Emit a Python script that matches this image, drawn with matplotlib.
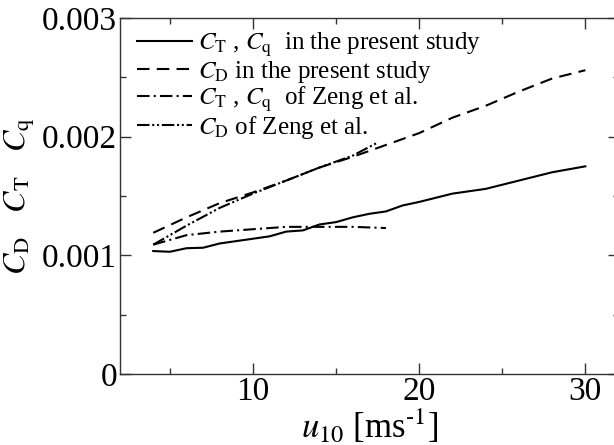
import matplotlib
matplotlib.use("Agg")
import matplotlib.pyplot as plt
from matplotlib.ticker import MultipleLocator, FuncFormatter

plt.rcParams['font.family'] = ['Liberation Serif', 'DejaVu Serif']
plt.rcParams['mathtext.fontset'] = 'stix'

# ============================================================
# DATA
# ============================================================

# present study, C_T / C_q
u_ct = [4, 5, 6, 7, 8, 10, 11, 12, 13, 14, 15, 16, 17, 18, 19, 20, 22, 24, 26, 28, 30]
ct_present = [0.001036, 0.00103, 0.00106, 0.001064, 0.0011, 0.00114, 0.00116, 0.0012,
              0.00121, 0.00126, 0.00128, 0.00132, 0.00135, 0.00137, 0.00142, 0.00145,
              0.00152, 0.00156, 0.00163, 0.0017, 0.00175]

# present study, C_D
u_cd = [4, 6, 8, 10, 12, 14, 16, 18, 20, 22, 24, 26, 28, 30]
cd_present = [0.00119, 0.00132, 0.00144, 0.00153, 0.00163, 0.00174, 0.00183, 0.00193,
              0.00203, 0.00216, 0.00226, 0.00238, 0.00249, 0.00256]

# Zeng et al., C_T / C_q
u_zeng_ct = [4, 5, 6, 8, 10, 12, 14, 16, 18]
ct_zeng = [0.00109, 0.00113, 0.00117, 0.0012, 0.00122, 0.00124, 0.00124, 0.00124, 0.00123]

# Zeng et al., C_D
u_zeng_cd = [4, 6, 8, 10, 12, 14, 16, 17.5]
cd_zeng = [0.00109, 0.00125, 0.00140, 0.00152, 0.00163, 0.00174, 0.00184, 0.00195]

labels = [r'$C_{\rm T}$ , $C_{\rm q}$  in the present study',
          r'$C_{\rm D}$ in the present study',
          r'$C_{\rm T}$ , $C_{\rm q}$  of Zeng et al.',
          r'$C_{\rm D}$ of Zeng et al.']

# ============================================================
# PLOT
# ============================================================

fig = plt.figure(figsize=(6.14, 4.45), dpi=100)
ax = fig.add_axes([120 / 614, 71 / 445, 498.6 / 614, 356 / 445])

lw = 1.5
ax.plot(u_ct, ct_present, color='black', lw=lw, linestyle='-', label=labels[0])
ax.plot(u_cd, cd_present, color='black', lw=lw, linestyle=(0, (6, 3.5)), label=labels[1])
ax.plot(u_zeng_ct, ct_zeng, color='black', lw=lw, linestyle=(0, (6, 2, 1, 2)), label=labels[2])
ax.plot(u_zeng_cd, cd_zeng, color='black', lw=lw, linestyle=(0, (6, 1.3, 1, 1.3, 1, 1.3)),
        label=labels[3])

ax.set_xlim(2, 32)
ax.set_ylim(0, 0.003)

ax.xaxis.set_major_locator(MultipleLocator(10))
ax.xaxis.set_minor_locator(MultipleLocator(5))
ax.yaxis.set_major_locator(MultipleLocator(0.001))
ax.yaxis.set_minor_locator(MultipleLocator(0.0005))
ax.yaxis.set_major_formatter(FuncFormatter(lambda v, pos: '%g' % round(v, 6)))

ax.tick_params(which='both', direction='in', top=True, right=True, labelsize=24,
               color='#333333', width=1)
ax.tick_params(which='major', length=8, pad=2)
ax.tick_params(which='minor', length=4)
for spine in ax.spines.values():
    spine.set_color('#333333')
    spine.set_linewidth(1)

ax.set_xlabel(r'$u_{10}$ [ms$^{\text{-1}}$]', fontsize=25, labelpad=0)
ax.set_ylabel(r'$C_{\rm D}$   $C_{\rm T}$   $C_{\rm q}$', fontsize=23, labelpad=4)

leg = ax.legend(loc='upper left', bbox_to_anchor=(0.034, 0.965), frameon=False,
                fontsize=18, handlelength=2.2, handletextpad=0.25, labelspacing=0.0,
                borderpad=0, borderaxespad=0)

fig.savefig('out.png', dpi=100, facecolor='white')
